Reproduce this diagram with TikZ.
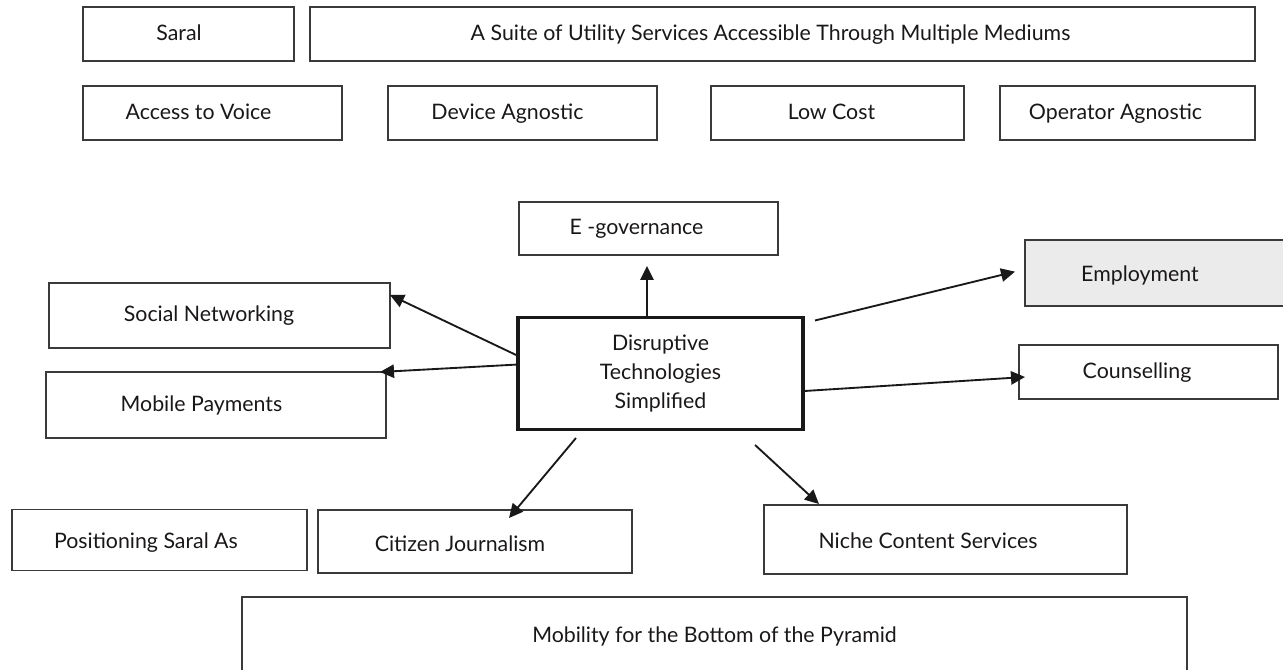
\documentclass[tikz,border=0pt]{standalone}
\usepackage{fontspec}
\setmainfont{Lato}
\usetikzlibrary{arrows.meta}
\definecolor{boxline}{HTML}{3A3A3A}
\definecolor{txt}{HTML}{1A1718}
\definecolor{empfill}{HTML}{EBEBEB}
\newcommand{\sh}[1]{\hspace*{-#1pt}}
\tikzset{
  box/.style={draw=boxline, line width=0.95pt, rectangle, inner sep=0pt, outer sep=0pt,
    text=txt, font=\fontsize{16pt}{21.4pt}\selectfont, align=center,
    text height=12.5pt, text depth=3.1pt},
  down/.style={text height=12.5pt+2*#1},
  wh/.style 2 args={minimum width=#1*0.75pt, minimum height=#2*0.75pt},
  mainbox/.style={box, line width=2.8pt, draw=black!90, text height=, text depth=},
  conn/.style={line width=1.4pt, draw=black!90, -{Triangle[length=10.5pt,width=10pt]}}
}
\begin{document}
\begin{tikzpicture}[x=0.75pt,y=-0.75pt]
\useasboundingbox (0,0) rectangle (1283,670);
% top rows
\node[box, wh={211}{54}] (saral) at (188.5,34) {\sh{14.25}Saral};
\node[box, wh={945}{54}] (suite) at (782.5,34) {\sh{18}A Suite of Utility Services Accessible Through Multiple Mediums};
\node[box, wh={259}{54}] (voice) at (212.5,113) {\sh{21}Access to Voice};
\node[box, wh={269}{54}] (device) at (522.5,113) {\sh{22.5}Device Agnostic};
\node[box, wh={253}{54}] (cost) at (837.5,113) {\sh{9}Low Cost};
\node[box, wh={255}{54}] (oper) at (1127.5,113) {\sh{18}Operator Agnostic};
% hub
\node[mainbox, wh={285}{112}] (c) at (660.5,373.5) {Disruptive\\Technologies\\Simplified};
% spokes
\node[box, wh={259}{53}] (eg) at (648.5,228.5) {\sh{18}E -governance};
\node[box, wh={265}{66}, fill=empfill, down=1.5pt] (emp) at (1157.5,273) {\sh{26.25}Employment};
\node[box, wh={259}{54}] (cou) at (1148.5,372) {\sh{17.25}Counselling};
\node[box, wh={341}{65}] (sn) at (219.5,315.5) {\sh{15.75}Social Networking};
\node[box, wh={340}{66}] (mp) at (216,405) {\sh{21.75}Mobile Payments};
\node[box, wh={295}{61}, down=1.5pt] (pos) at (159.5,540) {\sh{20.25}Positioning Saral As};
\node[box, wh={314}{63}, down=2.6pt] (cj) at (475,541.5) {\sh{22.5}Citizen Journalism};
\node[box, wh={363}{69}, down=1.9pt] (nc) at (945.5,539.5) {\sh{26.25}Niche Content Services};
\node[box, wh={945}{78}] (mob) at (714.5,636) {Mobility for the Bottom of the Pyramid};
% connectors
\draw[conn] ([xshift=-10.1pt,yshift=1pt]c.north) -- ([xshift=-1.1pt,yshift=-8.25pt]eg.south);
\draw[conn] ([yshift=13.2pt]c.west) -- ([yshift=15.4pt]sn.east);
\draw[conn] ([yshift=6.75pt]c.west) -- ([xshift=-4.5pt]mp.north east);
\draw[conn] ([xshift=9pt,yshift=-2.25pt]c.north east) -- ([xshift=-7.5pt,yshift=1pt]emp.west);
\draw[conn] ([yshift=-13.2pt]c.east) -- ([xshift=4.5pt,yshift=-3.75pt]cou.west);
\draw[conn] ([xshift=-63.4pt,yshift=-6.4pt]c.south) -- ([xshift=25.5pt,yshift=-6pt]cj.north);
\draw[conn] ([xshift=70.9pt,yshift=-11.6pt]c.south) -- ([xshift=-94.9pt,yshift=0.75pt]nc.north);
\end{tikzpicture}
\end{document}
